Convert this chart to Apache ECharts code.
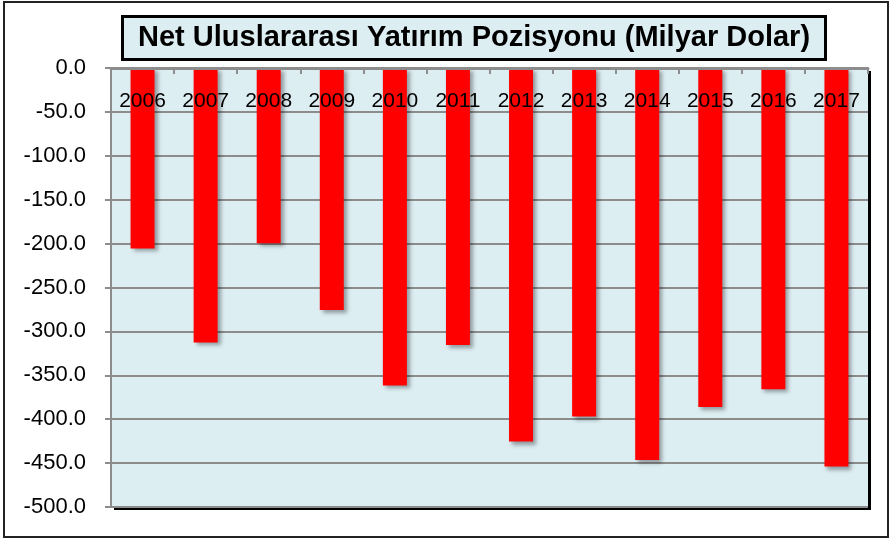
<!DOCTYPE html>
<html><head><meta charset="utf-8">
<script src="https://cdn.jsdelivr.net/npm/echarts@6/dist/echarts.min.js"></script>
<style>html,body{margin:0;padding:0;background:#fff}#c{width:893px;height:540px}</style>
</head><body><div id="c"></div>
<script>
var titleText = 'Net Uluslararası Yatırım Pozisyonu (Milyar Dolar)';
var years = ['2006','2007','2008','2009','2010','2011','2012','2013','2014','2015','2016','2017'];
var values = [-205.5, -312.5, -199.5, -275.5, -361.5, -315.5, -425.5, -397, -446.5, -386, -366, -454];
var yMin = -500, yMax = 0, yStep = 50;

var chart = echarts.init(document.getElementById('c'), null, {renderer:'canvas'});
chart.setOption({
  animation: false,
  backgroundColor: '#fff',
  title: {
    text: titleText, left: 122, top: 16,
    padding: [6, 16, 6, 16],
    backgroundColor: '#ddeef3', borderColor: '#000', borderWidth: 3,
    textStyle: {fontFamily: 'Liberation Sans', fontWeight: 'bold', fontSize: 29, color: '#000', lineHeight: 32}
  },
  graphic: [{
    type: 'rect', shape: {x: 4, y: 2, width: 884, height: 535},
    style: {fill: 'none', stroke: '#222', lineWidth: 2}, silent: true, z: 100
  }],
  grid: {
    left: 111, top: 68, right: 25, bottom: 33, show: true,
    backgroundColor: '#ddeef3', borderWidth: 0,
    shadowColor: '#000', shadowOffsetX: 3, shadowOffsetY: 3, shadowBlur: 0
  },
  xAxis: {
    type: 'category', data: years, position: 'top', z: 10,
    axisLine: {show: true, lineStyle: {color: '#8c8c8c', width: 3}},
    axisTick: {show: true, inside: true, length: 6, alignWithLabel: false, lineStyle: {color: '#8c8c8c', width: 2}},
    axisLabel: {inside: true, margin: 23, color: '#000', fontSize: 21, fontFamily: 'Liberation Sans'},
    splitLine: {show: false}
  },
  yAxis: {
    type: 'value', min: yMin, max: yMax, interval: yStep,
    axisLine: {show: true, lineStyle: {color: '#8c8c8c', width: 2}},
    axisTick: {show: true, length: 6, lineStyle: {color: '#8c8c8c', width: 2}},
    axisLabel: {color: '#000', fontSize: 22, fontFamily: 'Liberation Sans', margin: 25, padding: [7, 0, 0, 0],
      formatter: function(v){ return v.toFixed(1); }},
    splitLine: {show: true, lineStyle: {color: '#8c8c8c', width: 2}}
  },
  series: [{
    type: 'bar', data: values, barWidth: 24,
    itemStyle: {color: '#ff0000', shadowColor: 'rgba(0,0,0,0.35)', shadowBlur: 4, shadowOffsetX: 3, shadowOffsetY: 3}
  }]
});
</script></body></html>
